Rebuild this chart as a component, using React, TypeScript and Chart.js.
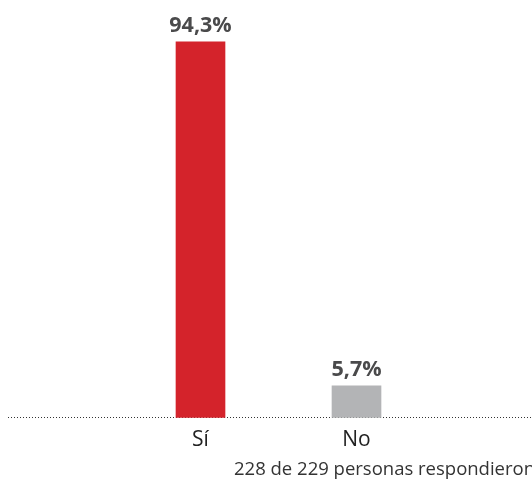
import React, { useEffect, useRef } from "react";
import { Chart, registerables } from "chart.js";

Chart.register(...registerables);

const categories = ["Sí", "No"];
const values = [94.3, 5.7];
const valueLabels = ["94,3%", "5,7%"];
const barColors = ["#d4232b", "#b3b4b6"];
const footerText = "228 de 229 personas respondieron";

const FONT = "'Open Sans', 'Noto Sans', sans-serif";

const overlayPlugin = {
  id: "overlay",
  beforeDatasetsDraw(chart: any) {
    const { ctx } = chart;
    const y0 = chart.scales.y.getPixelForValue(0);
    ctx.save();
    ctx.strokeStyle = "#333333";
    ctx.lineWidth = 1;
    ctx.setLineDash([1, 2]);
    ctx.beginPath();
    ctx.moveTo(8, Math.round(y0) - 0.5);
    ctx.lineTo(chart.width, Math.round(y0) - 0.5);
    ctx.stroke();
    ctx.restore();
  },
  afterDatasetsDraw(chart: any) {
    const { ctx } = chart;
    const meta = chart.getDatasetMeta(0);
    ctx.save();
    ctx.fillStyle = "#4a4a4b";
    ctx.font = `bold 21.5px ${FONT}`;
    ctx.textAlign = "center";
    ctx.textBaseline = "alphabetic";
    meta.data.forEach((bar: any, i: number) => {
      ctx.fillText(valueLabels[i], bar.x, bar.y - 10);
    });
    ctx.fillStyle = "#333333";
    ctx.font = `18.5px ${FONT}`;
    ctx.textAlign = "left";
    ctx.fillText(footerText, 234, 475);
    ctx.restore();
  },
};

export default function App() {
  const ref = useRef<HTMLCanvasElement>(null);
  useEffect(() => {
    const chart = new Chart(ref.current!, {
      type: "bar",
      data: {
        labels: categories,
        datasets: [
          {
            data: values,
            backgroundColor: barColors,
            borderWidth: 0,
            barThickness: 49,
            minBarLength: 32,
          },
        ],
      },
      options: {
        animation: false,
        responsive: false,
        maintainAspectRatio: false,
        layout: { padding: { left: 122.5, right: 97.5, top: 19, bottom: 28 } },
        plugins: { legend: { display: false }, tooltip: { enabled: false }, title: { display: false } },
        scales: {
          x: {
            grid: { display: false },
            border: { display: false },
            ticks: { color: "#222222", font: { family: FONT, size: 21 }, padding: 2 },
          },
          y: {
            display: false,
            min: 0,
            max: 100,
          },
        },
      },
      plugins: [overlayPlugin],
    });
    return () => chart.destroy();
  }, []);
  return (
    <div style={{ position: "absolute", left: 0, top: 0, width: 532, height: 483, overflow: "hidden" }}>
      <canvas ref={ref} width={532} height={483} style={{ display: "block" }} />
    </div>
  );
}
